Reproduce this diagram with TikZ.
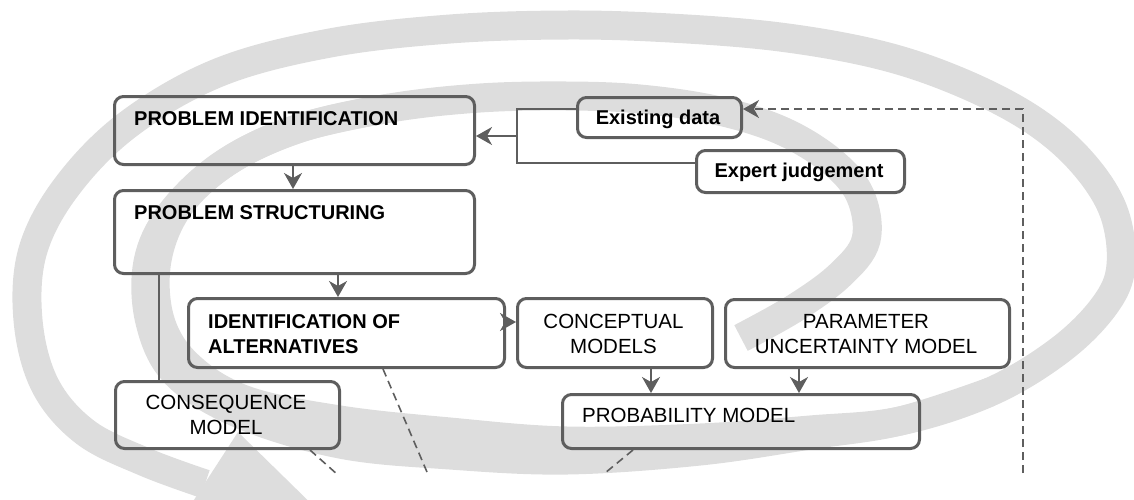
\documentclass[tikz,border=0pt]{standalone}
\usepackage{fontspec}
\setmainfont{Liberation Sans}
\usetikzlibrary{arrows.meta}
\definecolor{framegray}{HTML}{5E5E5E}
\definecolor{bandgray}{HTML}{DDDDDD}
\newcommand\boldfont{\fontsize{20pt}{25pt}\selectfont\bfseries}
\newcommand\plainfont{\fontsize{20.5pt}{25pt}\selectfont}
\newcommand\linesL[2]{\begin{tabular}[t]{@{}l@{}}#1\\#2\end{tabular}}
\newcommand\linesC[2]{\begin{tabular}[t]{@{}c@{}}#1\\#2\end{tabular}}
\begin{document}
\begin{tikzpicture}[x=1pt,y=-1pt,
  box/.style={draw=framegray, line width=3pt, rounded corners=9pt, inner sep=0pt, anchor=north west},
  lbl/.style={inner sep=0pt, text=black},
  conn/.style={draw=framegray, line width=1.8pt},
  dashconn/.style={draw=framegray, line width=1.6pt, dash pattern=on 8pt off 5pt},
  tip/.style={-{Stealth[length=16pt,width=18pt,inset=5pt]}},
  band/.style={bandgray, line width=29pt},
]
\useasboundingbox (0,0) rectangle (1134,499);
\clip (0,0) rectangle (1134,499);

% spiral band running round the whole process
\draw[band] plot[smooth, tension=0.6] coordinates {
 (741,338) (795,308) (840,275) (866,240) (860,195) (830,160) (780,130) (715,110)
 (640,99) (567,96) (480,98) (390,108) (300,128) (230,160) (180,205) (157,260)
 (160,320) (188,365) (245,400) (340,420) (450,432) (567,441) (700,438) (810,430)
 (900,421) (990,392) (1060,350) (1105,305) (1121,265) (1113,210) (1080,160)
 (1030,118) (960,82) (880,55) (780,37) (670,28) (567,25) (450,29) (330,43)
 (220,72) (130,123) (68,185) (33,250) (28,320) (45,385) (85,432) (145,462) (205,484)};
% the band grows wider where it passes in front
\draw[band] plot[smooth, tension=0.6] coordinates {
 (390,108) (300,128) (225,163) (172,212) (148,262) (150,322) (176,374) (240,414)
 (340,444) (450,455) (567,460) (700,451) (810,435) (900,421) (990,392)};
% arrow head at the end of the spiral
\fill[bandgray] (238,432) -- (330,522) -- (168,540) -- cycle;

% boxes
\node[box, minimum width=360pt, minimum height=68pt] (pid) at (113,95) {};
\node[box, minimum width=360pt, minimum height=83pt] (pst) at (113,189) {};
\node[box, minimum width=316pt, minimum height=69pt] (ioa) at (187,297) {};
\node[box, minimum width=195pt, minimum height=69pt] (cm) at (516,297) {};
\node[box, minimum width=284pt, minimum height=68pt] (pum) at (724,298) {};
\node[box, minimum width=357pt, minimum height=54pt] (prob) at (561,393) {};
\node[box, minimum width=224pt, minimum height=67pt] (cons) at (114,380) {};
\node[box, minimum width=164pt, minimum height=40pt] (ex) at (576,96) {};
\node[box, minimum width=208pt, minimum height=42pt] (ej) at (695,149) {};

% labels
\node[lbl, anchor=base west, font=\boldfont] (pidt) at (134,125) {PROBLEM IDENTIFICATION};
\node[lbl, anchor=base west, font=\boldfont] (pstt) at (134,219) {PROBLEM STRUCTURING};
\node[lbl, anchor=base west, font=\boldfont] (ioat) at (208,328) {\linesL{IDENTIFICATION OF}{ALTERNATIVES}};
\node[lbl, anchor=base, font=\plainfont] (cmt) at (613.5,328) {\linesC{CONCEPTUAL}{MODELS}};
\node[lbl, anchor=base, font=\plainfont] (pumt) at (866,328) {\linesC{PARAMETER}{UNCERTAINTY MODEL}};
\node[lbl, anchor=base west, font=\plainfont] (probt) at (582,422) {PROBABILITY MODEL};
\node[lbl, anchor=base, font=\plainfont] (const) at (226,409) {\linesC{CONSEQUENCE}{MODEL}};
\node[lbl, anchor=base, font=\boldfont] (ext) at (658,124) {Existing data};
\node[lbl, anchor=base, font=\boldfont] (ejt) at (799,177) {Expert judgement};

% connectors
\draw[conn, tip] (pid.south -| 293,0) -- (pst.north -| 293,0);
\draw[conn, tip] (pst.south -| 338,0) -- (ioa.north -| 338,0);
\draw[conn, tip] (ioa.east |- 0,322) -- (cm.west |- 0,322);
\draw[conn, tip] (cm.south -| 651,0) -- (prob.north -| 651,0);
\draw[conn, tip] (pum.south -| 799,0) -- (prob.north -| 799,0);
\draw[conn] (pst.south -| 159,0) -- (cons.north -| 159,0);

\coordinate (jt) at (517,109);
\coordinate (jb) at (517,163);
\coordinate (jm) at (517,136);
\draw[conn] (ex.west |- jt) -- (jt) -- (jb) -- (ej.west |- jb);
\draw[conn, tip] (jm) -- (pid.east |- jm);

\coordinate (fb) at (1023,473);
\draw[dashconn, tip] (fb) |- (ex.east |- jt);

\coordinate (d1) at (338,475);
\coordinate (d2) at (427,472);
\coordinate (d3) at (605,473);
\draw[dashconn] (cons.south -| 310,0) -- (d1);
\draw[dashconn] (ioa.south -| 383,0) -- (d2);
\draw[dashconn] (prob.south -| 633,0) -- (d3);
\end{tikzpicture}
\end{document}
